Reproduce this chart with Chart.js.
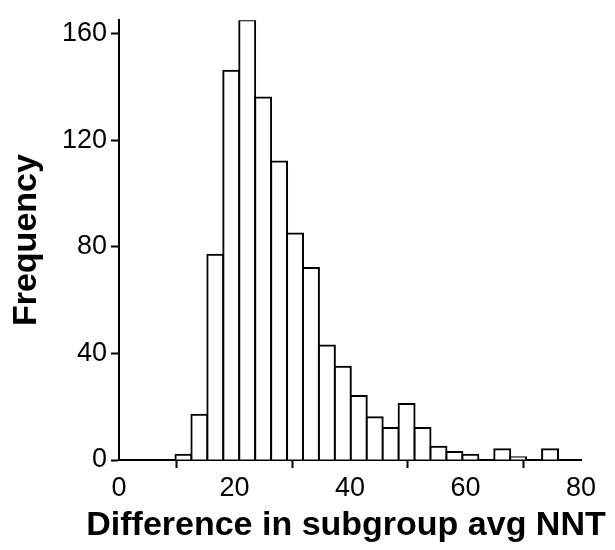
<!DOCTYPE html>
<html>
<head>
<meta charset="utf-8">
<script src="https://cdn.jsdelivr.net/npm/chart.js@4/dist/chart.umd.min.js"></script>
<style>
  body { margin: 0; background: #fff; }
  canvas { display: block; }
</style>
</head>
<body>
<canvas id="chart" width="615" height="550"></canvas>
<script>
// histogram bin edges (difference in subgroup avg NNT)
const binEdges = [9.78, 12.54, 15.30, 18.06, 20.82, 23.58, 26.34, 29.10, 31.86, 34.62,
                  37.38, 40.14, 42.90, 45.66, 48.42, 51.18, 53.94, 56.70, 59.46, 62.22,
                  64.98, 67.74, 70.50, 73.26, 76.02];
// counts per bin
const counts = [2, 17, 77, 146, 165, 136, 112, 85, 72, 43,
                35, 24, 16, 12, 21, 12, 5, 3, 2, 0,
                4, 1, 0, 4];
const xTicks = [0, 20, 40, 60, 80];
const yTicks = [0, 40, 80, 120, 160];
const xTitle = 'Difference in subgroup avg NNT';

const font = 'Liberation Sans, Arial, Helvetica, sans-serif';

const points = counts.map((c, i) => ({ x: (binEdges[i] + binEdges[i + 1]) / 2, y: c }));

const axisStyle = {
    z: 1,
    border: { color: '#000', width: 2 },
    grid: { drawOnChartArea: false, drawTicks: true, tickLength: 8, tickWidth: 2, color: '#000', tickColor: '#000' }
};

// the x title is wider than the plot, chart.js would squeeze it, so draw it here
const xTitlePlugin = {
    id: 'xTitle',
    afterDraw(chart) {
        const ctx = chart.ctx;
        ctx.save();
        ctx.font = 'bold 34px ' + font;
        ctx.fillStyle = '#000';
        ctx.textAlign = 'center';
        ctx.textBaseline = 'middle';
        ctx.fillText(xTitle, 346, 526);
        ctx.restore();
    }
};

new Chart(document.getElementById('chart'), {
    type: 'bar',
    data: {
        datasets: [{
            data: points,
            backgroundColor: '#fff',
            borderColor: '#000',
            borderWidth: 2,
            inflateAmount: 1,
            barPercentage: 1,
            categoryPercentage: 1
        }]
    },
    options: {
        responsive: false,
        animation: false,
        devicePixelRatio: 1,
        layout: { padding: { top: 9, right: 34, left: 0, bottom: 0 } },
        plugins: { legend: { display: false }, tooltip: { enabled: false } },
        scales: {
            x: {
                ...axisStyle,
                type: 'linear',
                offset: false,
                min: xTicks[0],
                max: xTicks[xTicks.length - 1],
                afterBuildTicks: s => { s.ticks = xTicks.map(v => ({ value: v })); },
                afterFit: s => { s.height = 90; },
                ticks: { color: '#000', font: { family: font, size: 27 }, padding: 4, maxRotation: 0 }
            },
            y: {
                ...axisStyle,
                min: 0,
                max: 165,
                afterBuildTicks: s => { s.ticks = yTicks.map(v => ({ value: v })); },
                afterFit: s => { s.width = 119; },
                ticks: { color: '#000', font: { family: font, size: 27 }, padding: 4 },
                title: {
                    display: true,
                    text: 'Frequency',
                    color: '#000',
                    font: { family: font, size: 34, weight: 'bold' },
                    padding: { top: 6, bottom: 0 }
                }
            }
        }
    },
    plugins: [xTitlePlugin]
});
</script>
</body>
</html>
